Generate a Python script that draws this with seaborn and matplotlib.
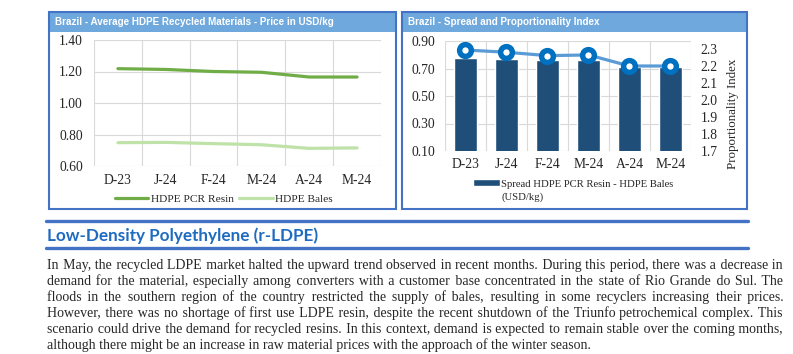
import numpy as np
import pandas as pd
import matplotlib
matplotlib.use("Agg")
import matplotlib.pyplot as plt
import seaborn as sns
from matplotlib.patches import Rectangle, Patch
from matplotlib.lines import Line2D

# Data
months = ["D-23", "J-24", "F-24", "M-24", "A-24", "M-24"]
pcr_resin = [1.218, 1.213, 1.200, 1.195, 1.165, 1.165]
bales = [0.748, 0.750, 0.742, 0.735, 0.712, 0.715]
spread = [0.78, 0.77, 0.76, 0.76, 0.71, 0.71]
prop_index = [2.294, 2.281, 2.261, 2.265, 2.200, 2.200]

left_title = "Brazil - Average HDPE Recycled Materials - Price in USD/kg"
right_title = "Brazil - Spread and Proportionality Index"
heading = "Low-Density Polyethylene (r-LDPE)"
body_lines = [
    "In May, the recycled LDPE market halted the upward trend observed in recent months. During this period, there was a decrease in",
    "demand for the material, especially among converters with a customer base concentrated in the state of Rio Grande do Sul. The",
    "floods in the southern region of the country restricted the supply of bales, resulting in some recyclers increasing their prices.",
    "However, there was no shortage of first use LDPE resin, despite the recent shutdown of the Triunfo petrochemical complex. This",
    "scenario could drive the demand for recycled resins. In this context, demand is expected to remain stable over the coming months,",
    "although there might be an increase in raw material prices with the approach of the winter season.",
]

W, H = 793, 354
sns.set_style("white")
plt.rcParams["font.family"] = ["Liberation Serif", "DejaVu Serif"]

fig = plt.figure(figsize=(W / 100, H / 100), dpi=100)


def fx(x):
    return x / W


def fy(y):
    return 1 - y / H


def axes_px(x0, y0, x1, y1):
    return fig.add_axes([fx(x0), fy(y1), (x1 - x0) / W, (y1 - y0) / H])


BORDER = "#4472C4"
BAR_FILL = "#6FA8DC"
GRID = "#D9D9D9"
TXT = "#262626"
TICK_FS = 9.8

# panel frames + title bars
for x0, x1, title in [(49, 396, left_title), (402, 747, right_title)]:
    fig.add_artist(Rectangle((fx(x0), fy(32)), (x1 - x0) / W, 20 / H, transform=fig.transFigure,
                             facecolor=BAR_FILL, edgecolor="none", zorder=0))
    fig.add_artist(Rectangle((fx(x0), fy(209)), (x1 - x0) / W, 197 / H, transform=fig.transFigure,
                             facecolor="none", edgecolor=BORDER, lw=1.5, zorder=5))
    fig.text(fx(x0 + 6), fy(22), title, color="white", fontsize=7.1, fontweight="bold",
             family="Liberation Sans", va="center", ha="left")

pos = np.arange(len(months))


def style_axis(ax):
    for s in ax.spines.values():
        s.set_visible(False)
    ax.set_xlim(-0.5, len(months) - 0.5)
    ax.set_xticks(pos)
    ax.set_xticklabels(months)
    ax.set_xticks(np.arange(-0.5, len(months), 1.0), minor=True)
    ax.grid(True, which="minor", axis="x", color=GRID, lw=0.8)
    ax.grid(True, which="major", axis="y", color=GRID, lw=0.8)
    ax.tick_params(which="both", length=0, labelsize=TICK_FS, labelcolor=TXT)
    ax.set_xlabel("")
    ax.set_ylabel("")
    ax.set_axisbelow(True)


# left chart: prices
ax1 = axes_px(94, 40, 381, 166)
df = pd.DataFrame({
    "pos": np.concatenate([pos, pos]),
    "price": pcr_resin + bales,
    "series": ["HDPE PCR Resin"] * len(pos) + ["HDPE Bales"] * len(pos),
})
sns.lineplot(data=df, x="pos", y="price", hue="series", ax=ax1, lw=2.3,
             palette={"HDPE PCR Resin": "#70AD47", "HDPE Bales": "#BEE2A8"})
style_axis(ax1)
ax1.set_ylim(0.6, 1.4)
ax1.set_yticks([0.6, 0.8, 1.0, 1.2, 1.4])
ax1.set_yticklabels([f"{v:.2f}" for v in [0.6, 0.8, 1.0, 1.2, 1.4]])
ax1.tick_params(axis="y", pad=8)
ax1.tick_params(axis="x", pad=6)
handles, labels = ax1.get_legend_handles_labels()
ax1.legend(handles, labels, ncol=2, frameon=False, fontsize=8.2, handlelength=2.9,
           handletextpad=0.25, columnspacing=0.5, loc="center",
           bbox_to_anchor=(fx(224), fy(199)), bbox_transform=fig.transFigure)

# right chart: spread bars + proportionality index
ax2 = axes_px(445, 41, 691, 151)
sns.barplot(x=pos, y=spread, ax=ax2, color="#1F4E79", width=0.55, saturation=1)
style_axis(ax2)
ax2.set_ylim(0.1, 0.9)
ax2.set_yticks([0.1, 0.3, 0.5, 0.7, 0.9])
ax2.set_yticklabels([f"{v:.2f}" for v in [0.1, 0.3, 0.5, 0.7, 0.9]])
ax2.tick_params(axis="y", pad=7)
ax2.tick_params(axis="x", pad=5)

ax3 = ax2.twinx()
sns.lineplot(x=pos, y=prop_index, ax=ax3, color="#5B9BD5", lw=2.3, marker="o",
             markersize=8.5, markerfacecolor="white", markeredgecolor="#0070C0",
             markeredgewidth=3.9)
for s in ax3.spines.values():
    s.set_visible(False)
ax3.set_ylim(1.7, 1.7 + 110 / 170)
ax3.set_yticks([1.7, 1.8, 1.9, 2.0, 2.1, 2.2, 2.3])
ax3.set_yticklabels([f"{v:.1f}" for v in [1.7, 1.8, 1.9, 2.0, 2.1, 2.2, 2.3]])
ax3.tick_params(length=0, labelsize=TICK_FS, labelcolor=TXT, pad=7)
ax3.set_ylabel("")
ax3.set_xlim(-0.5, len(months) - 0.5)
fig.text(fx(733), fy(114), "Proportionality Index", rotation=90, fontsize=9.3,
         color=TXT, ha="center", va="center")

ax2.legend([Patch(facecolor="#1F4E79")], ["Spread HDPE PCR Resin - HDPE Bales"],
           frameon=False, fontsize=7.7, handlelength=2.5, handleheight=0.6, handletextpad=0.15,
           loc="center left", bbox_to_anchor=(fx(473), fy(184)), bbox_transform=fig.transFigure,
           borderaxespad=0, borderpad=0)
fig.text(fx(502), fy(197), "(USD/kg)", fontsize=7.7, color=TXT, ha="left", va="center")

# section heading with rules
for y in (221, 248):
    fig.add_artist(Line2D([fx(46), fx(748)], [fy(y), fy(y)], transform=fig.transFigure,
                          color=BORDER, lw=2.4))
fig.text(fx(47), fy(235.5), heading, family="Lato", fontweight="bold", fontsize=12.3,
         color="#1F6BC0", va="center", ha="left")

# body text, justified by padding word gaps with hair spaces (one text per line)
BODY_FS = 10.0
renderer = fig.canvas.get_renderer()


def text_width(s):
    t = fig.text(0, 0, s, fontsize=BODY_FS)
    w = t.get_window_extent(renderer=renderer).width
    t.remove()
    return w


HAIR = "\u200a"
hair_w = (text_width("a" + HAIR * 40 + "a") - text_width("aa")) / 40


def padded(words, extra):
    parts = [words[0]]
    for g in range(1, len(words)):
        k = int(round(g * extra / hair_w)) - int(round((g - 1) * extra / hair_w))
        parts.append(" " + HAIR * max(k, 0) + words[g])
    return "".join(parts)


left, right = 47, 783
baselines = [269, 285, 301, 317, 333, 349]
for i, (line, y) in enumerate(zip(body_lines, baselines)):
    words = line.split(" ")
    s = line
    if i < len(body_lines) - 1 and hair_w > 0.2:
        extra = (right - left - text_width(line)) / (len(words) - 1)
        for _ in range(3):
            s = padded(words, extra)
            extra += (right - left - text_width(s)) / (len(words) - 1)
        s = padded(words, extra)
    fig.text(fx(left), fy(y), s, fontsize=BODY_FS, color=TXT, va="baseline", ha="left")

fig.savefig("out.png", dpi=100)
